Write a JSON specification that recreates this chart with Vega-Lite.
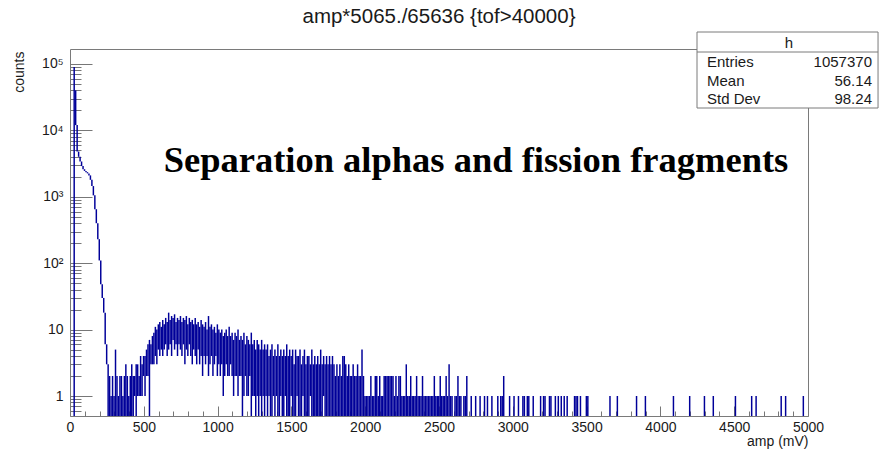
{
  "$schema": "https://vega.github.io/schema/vega-lite/v6.json",
  "width": 738,
  "height": 367,
  "autosize": {"type": "none"},
  "padding": {"left": 70, "top": 49, "right": 71, "bottom": 35},
  "background": "white",
  "config": {
    "view": {"stroke": "#7a7a7a", "strokeWidth": 1},
    "font": "Liberation Sans",
    "axis": {
      "labelColor": "#1a1a1a",
      "titleColor": "#1a1a1a",
      "labelFont": "Liberation Sans",
      "titleFont": "Liberation Sans",
      "titleFontWeight": "normal",
      "grid": false,
      "domain": false,
      "tickColor": "#777777",
      "tickWidth": 1
    }
  },
  "title": {
    "text": "amp*5065./65636 {tof>40000}",
    "font": "Liberation Sans",
    "fontSize": 20.5,
    "fontWeight": "normal",
    "color": "#1a1a1a",
    "anchor": "middle",
    "offset": 4
  },
  "data": {
    "values": [
      {"amp": 20, "low": 0, "high": 90000},
      {"amp": 30, "low": 12000, "high": 40000},
      {"amp": 40, "low": 4800, "high": 12000},
      {"amp": 50, "low": 4000, "high": 4800},
      {"amp": 60, "low": 3400, "high": 4000},
      {"amp": 70, "low": 2900, "high": 3400},
      {"amp": 80, "low": 2600, "high": 2900},
      {"amp": 90, "low": 2450, "high": 2600},
      {"amp": 100, "low": 2350, "high": 2450},
      {"amp": 110, "low": 2250, "high": 2350},
      {"amp": 120, "low": 2100, "high": 2250},
      {"amp": 130, "low": 1800, "high": 2100},
      {"amp": 140, "low": 1450, "high": 1800},
      {"amp": 150, "low": 1050, "high": 1450},
      {"amp": 160, "low": 650, "high": 1050},
      {"amp": 170, "low": 400, "high": 650},
      {"amp": 180, "low": 230, "high": 400},
      {"amp": 190, "low": 110, "high": 230},
      {"amp": 200, "low": 48, "high": 110},
      {"amp": 210, "low": 30, "high": 48},
      {"amp": 220, "low": 18, "high": 30},
      {"amp": 230, "low": 6, "high": 18},
      {"amp": 240, "low": 3, "high": 6},
      {"amp": 250, "low": 0, "high": 3},
      {"amp": 260, "low": 0, "high": 2},
      {"amp": 270, "low": 0, "high": 1},
      {"amp": 280, "low": 0, "high": 2},
      {"amp": 290, "low": 0, "high": 1},
      {"amp": 300, "low": 0, "high": 5},
      {"amp": 310, "low": 0, "high": 2},
      {"amp": 320, "low": 0, "high": 1},
      {"amp": 330, "low": 0, "high": 2},
      {"amp": 340, "low": 0, "high": 2},
      {"amp": 350, "low": 0, "high": 1},
      {"amp": 360, "low": 0, "high": 2},
      {"amp": 370, "low": 0, "high": 3},
      {"amp": 380, "low": 0, "high": 2},
      {"amp": 390, "low": 0, "high": 1},
      {"amp": 400, "low": 0, "high": 2},
      {"amp": 410, "low": 0, "high": 3},
      {"amp": 420, "low": 0, "high": 2},
      {"amp": 430, "low": 1, "high": 2},
      {"amp": 440, "low": 0, "high": 3},
      {"amp": 450, "low": 1, "high": 3},
      {"amp": 460, "low": 1, "high": 2},
      {"amp": 470, "low": 1, "high": 4},
      {"amp": 480, "low": 1, "high": 3},
      {"amp": 490, "low": 2, "high": 4},
      {"amp": 500, "low": 1, "high": 4},
      {"amp": 510, "low": 2, "high": 5},
      {"amp": 520, "low": 2, "high": 6},
      {"amp": 530, "low": 0, "high": 7},
      {"amp": 540, "low": 3, "high": 6},
      {"amp": 550, "low": 3, "high": 8},
      {"amp": 560, "low": 3, "high": 9},
      {"amp": 570, "low": 4, "high": 11},
      {"amp": 580, "low": 3, "high": 10},
      {"amp": 590, "low": 5, "high": 12},
      {"amp": 600, "low": 4, "high": 13},
      {"amp": 610, "low": 5, "high": 11},
      {"amp": 620, "low": 4, "high": 14},
      {"amp": 630, "low": 5, "high": 12},
      {"amp": 640, "low": 6, "high": 15},
      {"amp": 650, "low": 4, "high": 13},
      {"amp": 660, "low": 5, "high": 18},
      {"amp": 670, "low": 6, "high": 14},
      {"amp": 680, "low": 4, "high": 16},
      {"amp": 690, "low": 7, "high": 15},
      {"amp": 700, "low": 5, "high": 17},
      {"amp": 710, "low": 6, "high": 13},
      {"amp": 720, "low": 4, "high": 15},
      {"amp": 730, "low": 6, "high": 14},
      {"amp": 740, "low": 5, "high": 16},
      {"amp": 750, "low": 4, "high": 13},
      {"amp": 760, "low": 6, "high": 15},
      {"amp": 770, "low": 3, "high": 14},
      {"amp": 780, "low": 5, "high": 16},
      {"amp": 790, "low": 4, "high": 12},
      {"amp": 800, "low": 6, "high": 15},
      {"amp": 810, "low": 4, "high": 13},
      {"amp": 820, "low": 3, "high": 14},
      {"amp": 830, "low": 5, "high": 12},
      {"amp": 840, "low": 4, "high": 15},
      {"amp": 850, "low": 3, "high": 12},
      {"amp": 860, "low": 5, "high": 13},
      {"amp": 870, "low": 3, "high": 11},
      {"amp": 880, "low": 4, "high": 14},
      {"amp": 890, "low": 2, "high": 12},
      {"amp": 900, "low": 4, "high": 11},
      {"amp": 910, "low": 3, "high": 13},
      {"amp": 920, "low": 4, "high": 10},
      {"amp": 930, "low": 2, "high": 16},
      {"amp": 940, "low": 3, "high": 11},
      {"amp": 950, "low": 4, "high": 12},
      {"amp": 960, "low": 2, "high": 10},
      {"amp": 970, "low": 3, "high": 11},
      {"amp": 980, "low": 4, "high": 9},
      {"amp": 990, "low": 2, "high": 12},
      {"amp": 1000, "low": 3, "high": 10},
      {"amp": 1010, "low": 2, "high": 9},
      {"amp": 1020, "low": 3, "high": 10},
      {"amp": 1030, "low": 1, "high": 8},
      {"amp": 1040, "low": 2, "high": 9},
      {"amp": 1050, "low": 3, "high": 10},
      {"amp": 1060, "low": 2, "high": 8},
      {"amp": 1070, "low": 2, "high": 11},
      {"amp": 1080, "low": 3, "high": 8},
      {"amp": 1090, "low": 2, "high": 9},
      {"amp": 1100, "low": 1, "high": 7},
      {"amp": 1110, "low": 2, "high": 9},
      {"amp": 1120, "low": 2, "high": 8},
      {"amp": 1130, "low": 1, "high": 10},
      {"amp": 1140, "low": 2, "high": 7},
      {"amp": 1150, "low": 2, "high": 8},
      {"amp": 1160, "low": 0, "high": 7},
      {"amp": 1170, "low": 1, "high": 9},
      {"amp": 1180, "low": 2, "high": 6},
      {"amp": 1190, "low": 1, "high": 8},
      {"amp": 1200, "low": 1, "high": 7},
      {"amp": 1210, "low": 2, "high": 6},
      {"amp": 1220, "low": 0, "high": 9},
      {"amp": 1230, "low": 1, "high": 6},
      {"amp": 1240, "low": 1, "high": 7},
      {"amp": 1250, "low": 0, "high": 5},
      {"amp": 1260, "low": 1, "high": 7},
      {"amp": 1270, "low": 0, "high": 6},
      {"amp": 1280, "low": 1, "high": 5},
      {"amp": 1290, "low": 0, "high": 7},
      {"amp": 1300, "low": 1, "high": 5},
      {"amp": 1310, "low": 0, "high": 6},
      {"amp": 1320, "low": 1, "high": 5},
      {"amp": 1330, "low": 0, "high": 6},
      {"amp": 1340, "low": 1, "high": 4},
      {"amp": 1350, "low": 0, "high": 5},
      {"amp": 1360, "low": 0, "high": 6},
      {"amp": 1370, "low": 1, "high": 4},
      {"amp": 1380, "low": 0, "high": 5},
      {"amp": 1390, "low": 1, "high": 4},
      {"amp": 1400, "low": 0, "high": 6},
      {"amp": 1410, "low": 0, "high": 4},
      {"amp": 1420, "low": 1, "high": 5},
      {"amp": 1430, "low": 0, "high": 4},
      {"amp": 1440, "low": 0, "high": 5},
      {"amp": 1450, "low": 1, "high": 4},
      {"amp": 1460, "low": 0, "high": 6},
      {"amp": 1470, "low": 0, "high": 4},
      {"amp": 1480, "low": 0, "high": 5},
      {"amp": 1490, "low": 1, "high": 4},
      {"amp": 1500, "low": 0, "high": 5},
      {"amp": 1510, "low": 0, "high": 3},
      {"amp": 1520, "low": 0, "high": 5},
      {"amp": 1530, "low": 1, "high": 4},
      {"amp": 1540, "low": 0, "high": 4},
      {"amp": 1550, "low": 0, "high": 5},
      {"amp": 1560, "low": 0, "high": 3},
      {"amp": 1570, "low": 1, "high": 4},
      {"amp": 1580, "low": 0, "high": 5},
      {"amp": 1590, "low": 0, "high": 3},
      {"amp": 1600, "low": 0, "high": 4},
      {"amp": 1610, "low": 0, "high": 4},
      {"amp": 1620, "low": 1, "high": 3},
      {"amp": 1630, "low": 0, "high": 5},
      {"amp": 1640, "low": 0, "high": 3},
      {"amp": 1650, "low": 0, "high": 4},
      {"amp": 1660, "low": 0, "high": 3},
      {"amp": 1670, "low": 0, "high": 4},
      {"amp": 1680, "low": 0, "high": 3},
      {"amp": 1690, "low": 0, "high": 5},
      {"amp": 1700, "low": 0, "high": 3},
      {"amp": 1710, "low": 1, "high": 4},
      {"amp": 1720, "low": 0, "high": 3},
      {"amp": 1730, "low": 0, "high": 4},
      {"amp": 1740, "low": 0, "high": 3},
      {"amp": 1750, "low": 0, "high": 4},
      {"amp": 1760, "low": 0, "high": 3},
      {"amp": 1770, "low": 0, "high": 4},
      {"amp": 1780, "low": 0, "high": 3},
      {"amp": 1790, "low": 0, "high": 2},
      {"amp": 1800, "low": 0, "high": 3},
      {"amp": 1810, "low": 0, "high": 2},
      {"amp": 1820, "low": 0, "high": 3},
      {"amp": 1830, "low": 0, "high": 2},
      {"amp": 1840, "low": 0, "high": 4},
      {"amp": 1850, "low": 0, "high": 4},
      {"amp": 1860, "low": 0, "high": 3},
      {"amp": 1870, "low": 0, "high": 2},
      {"amp": 1880, "low": 0, "high": 3},
      {"amp": 1890, "low": 0, "high": 2},
      {"amp": 1900, "low": 0, "high": 2},
      {"amp": 1910, "low": 0, "high": 3},
      {"amp": 1920, "low": 0, "high": 2},
      {"amp": 1930, "low": 0, "high": 2},
      {"amp": 1940, "low": 0, "high": 3},
      {"amp": 1950, "low": 0, "high": 2},
      {"amp": 1960, "low": 0, "high": 2},
      {"amp": 1970, "low": 0, "high": 5},
      {"amp": 1980, "low": 0, "high": 2},
      {"amp": 1990, "low": 0, "high": 1},
      {"amp": 2000, "low": 0, "high": 1},
      {"amp": 2010, "low": 0, "high": 1},
      {"amp": 2020, "low": 0, "high": 1},
      {"amp": 2030, "low": 0, "high": 2},
      {"amp": 2040, "low": 0, "high": 1},
      {"amp": 2050, "low": 0, "high": 1},
      {"amp": 2060, "low": 0, "high": 2},
      {"amp": 2070, "low": 0, "high": 2},
      {"amp": 2080, "low": 0, "high": 1},
      {"amp": 2090, "low": 0, "high": 2},
      {"amp": 2100, "low": 0, "high": 1},
      {"amp": 2110, "low": 0, "high": 1},
      {"amp": 2120, "low": 0, "high": 2},
      {"amp": 2130, "low": 0, "high": 2},
      {"amp": 2140, "low": 0, "high": 2},
      {"amp": 2150, "low": 0, "high": 2},
      {"amp": 2160, "low": 0, "high": 2},
      {"amp": 2170, "low": 0, "high": 2},
      {"amp": 2180, "low": 0, "high": 2},
      {"amp": 2190, "low": 0, "high": 1},
      {"amp": 2200, "low": 0, "high": 2},
      {"amp": 2210, "low": 0, "high": 1},
      {"amp": 2220, "low": 0, "high": 2},
      {"amp": 2230, "low": 0, "high": 2},
      {"amp": 2240, "low": 0, "high": 1},
      {"amp": 2250, "low": 0, "high": 1},
      {"amp": 2260, "low": 0, "high": 1},
      {"amp": 2270, "low": 0, "high": 3},
      {"amp": 2280, "low": 0, "high": 1},
      {"amp": 2290, "low": 0, "high": 1},
      {"amp": 2300, "low": 0, "high": 2},
      {"amp": 2310, "low": 0, "high": 1},
      {"amp": 2320, "low": 0, "high": 1},
      {"amp": 2330, "low": 0, "high": 1},
      {"amp": 2340, "low": 0, "high": 2},
      {"amp": 2350, "low": 0, "high": 1},
      {"amp": 2360, "low": 0, "high": 1},
      {"amp": 2370, "low": 0, "high": 1},
      {"amp": 2380, "low": 0, "high": 2},
      {"amp": 2390, "low": 0, "high": 1},
      {"amp": 2400, "low": 0, "high": 1},
      {"amp": 2410, "low": 0, "high": 1},
      {"amp": 2420, "low": 0, "high": 1},
      {"amp": 2430, "low": 0, "high": 1},
      {"amp": 2440, "low": 0, "high": 1},
      {"amp": 2450, "low": 0, "high": 1},
      {"amp": 2460, "low": 0, "high": 2},
      {"amp": 2470, "low": 0, "high": 1},
      {"amp": 2480, "low": 0, "high": 1},
      {"amp": 2490, "low": 0, "high": 1},
      {"amp": 2500, "low": 0, "high": 2},
      {"amp": 2510, "low": 0, "high": 1},
      {"amp": 2520, "low": 0, "high": 1},
      {"amp": 2530, "low": 0, "high": 1},
      {"amp": 2540, "low": 0, "high": 2},
      {"amp": 2550, "low": 0, "high": 1},
      {"amp": 2560, "low": 0, "high": 3},
      {"amp": 2570, "low": 0, "high": 1},
      {"amp": 2580, "low": 0, "high": 1},
      {"amp": 2600, "low": 0, "high": 1},
      {"amp": 2610, "low": 0, "high": 1},
      {"amp": 2620, "low": 0, "high": 2},
      {"amp": 2630, "low": 0, "high": 1},
      {"amp": 2640, "low": 0, "high": 1},
      {"amp": 2660, "low": 0, "high": 1},
      {"amp": 2670, "low": 0, "high": 1},
      {"amp": 2680, "low": 0, "high": 2},
      {"amp": 2710, "low": 0, "high": 1},
      {"amp": 2740, "low": 0, "high": 1},
      {"amp": 2770, "low": 0, "high": 1},
      {"amp": 2800, "low": 0, "high": 1},
      {"amp": 2820, "low": 0, "high": 1},
      {"amp": 2850, "low": 0, "high": 1},
      {"amp": 2890, "low": 0, "high": 1},
      {"amp": 2910, "low": 0, "high": 1},
      {"amp": 2920, "low": 0, "high": 1},
      {"amp": 2930, "low": 0, "high": 2},
      {"amp": 2970, "low": 0, "high": 1},
      {"amp": 3000, "low": 0, "high": 1},
      {"amp": 3030, "low": 0, "high": 1},
      {"amp": 3060, "low": 0, "high": 1},
      {"amp": 3070, "low": 0, "high": 1},
      {"amp": 3090, "low": 0, "high": 1},
      {"amp": 3100, "low": 0, "high": 1},
      {"amp": 3130, "low": 0, "high": 1},
      {"amp": 3180, "low": 0, "high": 1},
      {"amp": 3200, "low": 0, "high": 1},
      {"amp": 3210, "low": 0, "high": 1},
      {"amp": 3240, "low": 0, "high": 1},
      {"amp": 3250, "low": 0, "high": 1},
      {"amp": 3280, "low": 0, "high": 1},
      {"amp": 3300, "low": 0, "high": 1},
      {"amp": 3320, "low": 0, "high": 1},
      {"amp": 3340, "low": 0, "high": 1},
      {"amp": 3360, "low": 0, "high": 1},
      {"amp": 3410, "low": 0, "high": 1},
      {"amp": 3420, "low": 0, "high": 1},
      {"amp": 3430, "low": 0, "high": 1},
      {"amp": 3450, "low": 0, "high": 1},
      {"amp": 3490, "low": 0, "high": 1},
      {"amp": 3500, "low": 0, "high": 1},
      {"amp": 3650, "low": 0, "high": 1},
      {"amp": 3700, "low": 0, "high": 1},
      {"amp": 3830, "low": 0, "high": 1},
      {"amp": 3890, "low": 0, "high": 1},
      {"amp": 4080, "low": 0, "high": 1},
      {"amp": 4190, "low": 0, "high": 1},
      {"amp": 4290, "low": 0, "high": 1},
      {"amp": 4350, "low": 0, "high": 1},
      {"amp": 4500, "low": 0, "high": 1},
      {"amp": 4610, "low": 0, "high": 1},
      {"amp": 4640, "low": 0, "high": 1},
      {"amp": 4810, "low": 0, "high": 1},
      {"amp": 4840, "low": 0, "high": 1},
      {"amp": 4960, "low": 0, "high": 1}
    ]
  },
  "resolve": {"scale": {"x": "independent", "y": "independent"}},
  "layer": [
    {
      "mark": {"type": "bar", "color": "#000099", "binSpacing": 0, "clip": true},
      "encoding": {
        "x": {
          "field": "amp",
          "type": "quantitative",
          "bin": {"binned": true, "step": 10},
          "scale": {"domain": [0, 5000], "nice": false, "zero": false},
          "axis": {
            "orient": "bottom",
            "values": [0, 500, 1000, 1500, 2000, 2500, 3000, 3500, 4000, 4500, 5000],
            "format": "d",
            "ticks": false,
            "labelPadding": 4,
            "labelFontSize": 14,
            "labelFlush": false,
            "labelOverlap": false,
            "title": "amp (mV)",
            "titleFontSize": 14,
            "titleX": 738,
            "titleY": 25,
            "titleAlign": "right",
            "titleBaseline": "middle"
          }
        },
        "y": {
          "field": "high",
          "type": "quantitative",
          "scale": {"type": "log", "domain": [0.5, 168000], "nice": false, "clamp": true},
          "axis": {
            "orient": "left",
            "values": [1, 10, 100, 1000, 10000, 100000],
            "labelExpr": "datum.value == 1 ? '1' : datum.value == 10 ? '10' : datum.value == 100 ? '10²' : datum.value == 1000 ? '10³' : datum.value == 10000 ? '10⁴' : '10⁵'",
            "ticks": false,
            "labelPadding": 7,
            "labelFontSize": 14,
            "labelOverlap": false,
            "title": "counts",
            "titleFontSize": 14,
            "titleAngle": 270,
            "titleX": -51,
            "titleY": 2,
            "titleAlign": "right",
            "titleBaseline": "middle"
          }
        },
        "y2": {"field": "low"}
      }
    },
    {
      "mark": {"type": "point", "opacity": 0},
      "encoding": {
        "x": {
          "field": "amp",
          "type": "quantitative",
          "scale": {"domain": [0, 5000], "nice": false, "zero": false},
          "axis": {
            "orient": "bottom",
            "values": [0, 500, 1000, 1500, 2000, 2500, 3000, 3500, 4000, 4500, 5000],
            "tickSize": -10,
            "labels": false,
            "title": null
          }
        },
        "y": {
          "field": "high",
          "type": "quantitative",
          "scale": {"type": "log", "domain": [0.5, 168000], "nice": false},
          "axis": {
            "orient": "left",
            "values": [1, 10, 100, 1000, 10000, 100000],
            "tickSize": -22,
            "labels": false,
            "title": null
          }
        }
      }
    },
    {
      "mark": {"type": "point", "opacity": 0},
      "encoding": {
        "x": {
          "field": "amp",
          "type": "quantitative",
          "scale": {"domain": [0, 5000], "nice": false, "zero": false},
          "axis": {
            "orient": "bottom",
            "values": [100, 200, 300, 400, 600, 700, 800, 900, 1100, 1200, 1300, 1400, 1600, 1700, 1800, 1900, 2100, 2200, 2300, 2400, 2600, 2700, 2800, 2900, 3100, 3200, 3300, 3400, 3600, 3700, 3800, 3900, 4100, 4200, 4300, 4400, 4600, 4700, 4800, 4900],
            "tickSize": -5,
            "labels": false,
            "title": null
          }
        },
        "y": {
          "field": "high",
          "type": "quantitative",
          "scale": {"type": "log", "domain": [0.5, 168000], "nice": false},
          "axis": {
            "orient": "left",
            "values": [0.6, 0.7, 0.8, 0.9, 2, 3, 4, 5, 6, 7, 8, 9, 20, 30, 40, 50, 60, 70, 80, 90, 200, 300, 400, 500, 600, 700, 800, 900, 2000, 3000, 4000, 5000, 6000, 7000, 8000, 9000, 20000, 30000, 40000, 50000, 60000, 70000, 80000, 90000],
            "tickSize": -11,
            "labels": false,
            "title": null
          }
        }
      }
    },
    {
      "data": {"values": [{}]},
      "layer": [
        {
          "mark": {"type": "rect", "fill": "white", "stroke": "#7a7a7a", "strokeWidth": 1, "clip": false},
          "encoding": {
            "x": {"datum": 0.8496, "type": "quantitative", "scale": {"domain": [0, 1], "nice": false, "zero": false}, "axis": null},
            "x2": {"datum": 1.0949},
            "y": {"datum": 0.8392, "type": "quantitative", "scale": {"domain": [0, 1], "nice": false, "zero": false}, "axis": null},
            "y2": {"datum": 1.0463}
          }
        },
        {
          "mark": {"type": "rule", "stroke": "#7a7a7a", "strokeWidth": 1, "clip": false},
          "encoding": {
            "x": {"datum": 0.8496, "type": "quantitative"},
            "x2": {"datum": 1.0949},
            "y": {"datum": 0.9918, "type": "quantitative"}
          }
        },
        {
          "mark": {"type": "text", "text": "h", "align": "center", "baseline": "middle", "fontSize": 15, "color": "#1a1a1a", "font": "Liberation Sans"},
          "encoding": {"x": {"datum": 0.9743, "type": "quantitative"}, "y": {"datum": 1.0163, "type": "quantitative"}}
        },
        {
          "mark": {"type": "text", "text": "Entries", "align": "left", "baseline": "middle", "fontSize": 15, "color": "#1a1a1a", "font": "Liberation Sans"},
          "encoding": {"x": {"datum": 0.8631, "type": "quantitative"}, "y": {"datum": 0.9646, "type": "quantitative"}}
        },
        {
          "mark": {"type": "text", "text": "1057370", "align": "right", "baseline": "middle", "fontSize": 15, "color": "#1a1a1a", "font": "Liberation Sans"},
          "encoding": {"x": {"datum": 1.0867, "type": "quantitative"}, "y": {"datum": 0.9646, "type": "quantitative"}}
        },
        {
          "mark": {"type": "text", "text": "Mean", "align": "left", "baseline": "middle", "fontSize": 15, "color": "#1a1a1a", "font": "Liberation Sans"},
          "encoding": {"x": {"datum": 0.8631, "type": "quantitative"}, "y": {"datum": 0.9128, "type": "quantitative"}}
        },
        {
          "mark": {"type": "text", "text": "56.14", "align": "right", "baseline": "middle", "fontSize": 15, "color": "#1a1a1a", "font": "Liberation Sans"},
          "encoding": {"x": {"datum": 1.0867, "type": "quantitative"}, "y": {"datum": 0.9128, "type": "quantitative"}}
        },
        {
          "mark": {"type": "text", "text": "Std Dev", "align": "left", "baseline": "middle", "fontSize": 15, "color": "#1a1a1a", "font": "Liberation Sans"},
          "encoding": {"x": {"datum": 0.8631, "type": "quantitative"}, "y": {"datum": 0.8638, "type": "quantitative"}}
        },
        {
          "mark": {"type": "text", "text": "98.24", "align": "right", "baseline": "middle", "fontSize": 15, "color": "#1a1a1a", "font": "Liberation Sans"},
          "encoding": {"x": {"datum": 1.0867, "type": "quantitative"}, "y": {"datum": 0.8638, "type": "quantitative"}}
        },
        {
          "mark": {"type": "text", "text": "Separation alphas and fission fragments", "align": "center", "baseline": "alphabetic", "fontSize": 36.5, "fontWeight": "bold", "color": "#000000", "font": "Liberation Serif"},
          "encoding": {"x": {"datum": 0.5501, "type": "quantitative"}, "y": {"datum": 0.6649, "type": "quantitative"}}
        }
      ]
    }
  ]
}
